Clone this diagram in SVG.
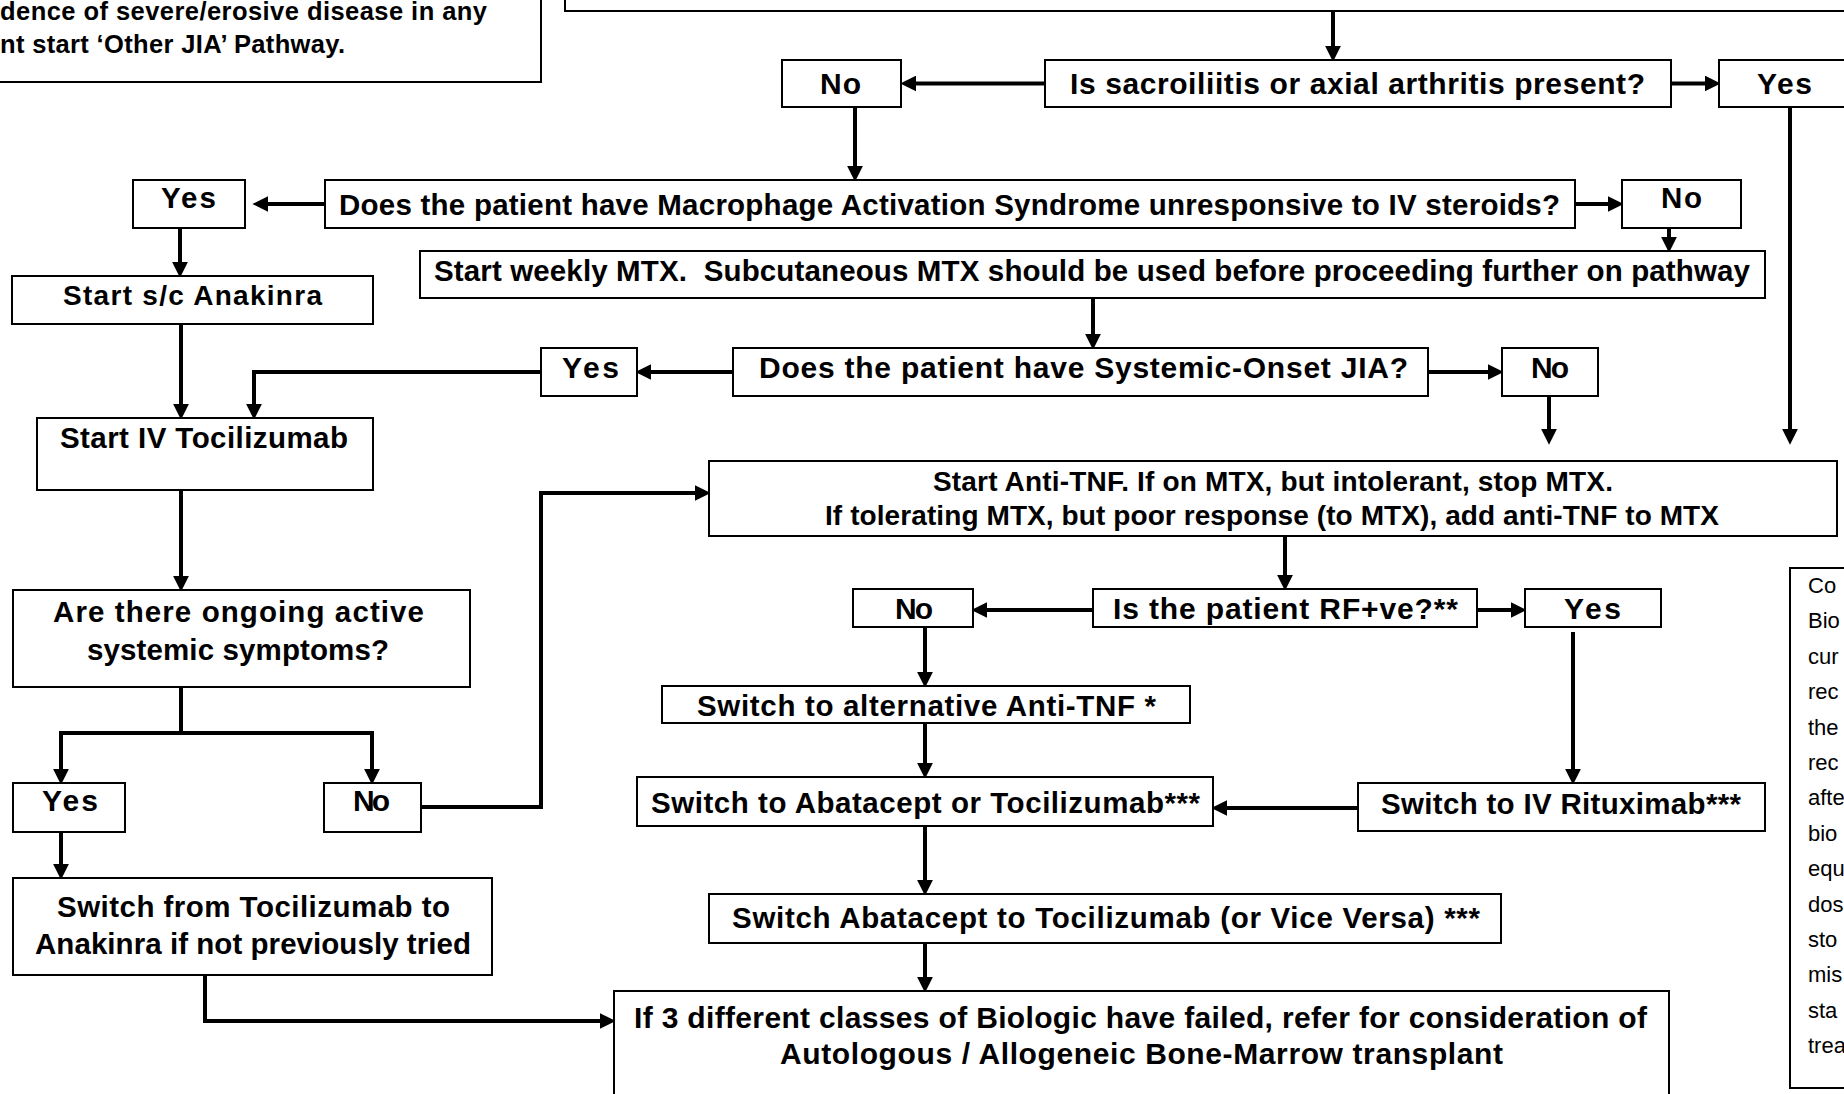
<svg xmlns="http://www.w3.org/2000/svg" width="1844" height="1094" viewBox="0 0 1844 1094">
<style>
.bx{fill:#fff;stroke:#000;stroke-width:2}
.t{font-family:"Liberation Sans",Arial,sans-serif;font-weight:bold;fill:#000}
.s26{font-size:25.5px}.s28{font-size:28px}.s29{font-size:29.5px}.s30{font-size:30px}
.n{font-family:"Liberation Sans",Arial,sans-serif;font-size:22px;fill:#000}
.c{fill:none;stroke:#000;stroke-width:4;marker-end:url(#ah)}
</style>
<defs>
<marker id="ah" markerUnits="userSpaceOnUse" markerWidth="16" markerHeight="16" viewBox="0 0 14 14" refX="2" refY="7" orient="auto">
<path d="M0,0 L14,7 L0,14 z" fill="#000"/>
</marker>
</defs>
<rect width="1844" height="1094" fill="#fff"/>

<g id="connectors">
<path class="c" d="M1333,11 V48"/>
<path class="c" d="M1045,83.5 H914"/>
<path class="c" d="M1671,83.5 H1707"/>
<path class="c" d="M855,107 V168"/>
<path class="c" d="M1790,107 V431"/>
<path class="c" d="M325,204 H266"/>
<path class="c" d="M1575,204 H1610"/>
<path class="c" d="M180,228 V264"/>
<path class="c" d="M1669,228 V239"/>
<path class="c" d="M1093,298 V336"/>
<path class="c" d="M733,372 H649"/>
<path class="c" d="M1428,372 H1490"/>
<path class="c" d="M1549,397 V431"/>
<path class="c" d="M541,372 H254 V406"/>
<path class="c" d="M181,324 V406"/>
<path class="c" d="M181,490 V578"/>
<path class="c" d="M181,687 V733 H61 V771"/>
<path class="c" d="M181,733 H372 V771"/>
<path class="c" d="M421,807 H541 V493 H697"/>
<path class="c" d="M61,832 V866"/>
<path class="c" d="M205,975 V1021 H602"/>
<path class="c" d="M1285,536 V577"/>
<path class="c" d="M1093,610 H985"/>
<path class="c" d="M1477,610 H1513"/>
<path class="c" d="M925,627 V674"/>
<path class="c" d="M925,723 V765"/>
<path class="c" d="M1573,632 V771"/>
<path class="c" d="M1358,808 H1225"/>
<path class="c" d="M925,826 V882"/>
<path class="c" d="M925,943 V979"/>
</g>

<g id="note-topleft">
<rect class="bx" x="-10" y="-10" width="551" height="92"/>
<text class="t s26" x="0" y="20" textLength="487">dence of severe/erosive disease in any</text>
<text class="t s26" x="0" y="53" textLength="345">nt start ‘Other JIA’ Pathway.</text>
</g>

<g id="box-top">
<rect class="bx" x="565" y="-10" width="1300" height="21"/>
</g>

<g id="q-sacro">
<rect class="bx" x="1045" y="60" width="626" height="47"/>
<text class="t s30" x="1070" y="94" textLength="575">Is sacroiliitis or axial arthritis present?</text>
</g>
<g id="no-sacro">
<rect class="bx" x="782" y="60" width="119" height="47"/>
<text class="t s30" x="820" y="94" textLength="41">No</text>
</g>
<g id="yes-sacro">
<rect class="bx" x="1719" y="60" width="140" height="47"/>
<text class="t s30" x="1757" y="94" textLength="55">Yes</text>
</g>

<g id="q-mas">
<rect class="bx" x="325" y="180" width="1250" height="48"/>
<text class="t s29" x="339" y="215" textLength="1221">Does the patient have Macrophage Activation Syndrome unresponsive to IV steroids?</text>
</g>
<g id="yes-mas">
<rect class="bx" x="133" y="180" width="112" height="48"/>
<text class="t s29" x="161" y="208" textLength="55">Yes</text>
</g>
<g id="no-mas">
<rect class="bx" x="1622" y="180" width="119" height="48"/>
<text class="t s29" x="1661" y="208" textLength="41">No</text>
</g>

<g id="mtx">
<rect class="bx" x="420" y="251" width="1345" height="47"/>
<text class="t s29" x="434" y="281" textLength="1316">Start weekly MTX.&#160; Subcutaneous MTX should be used before proceeding further on pathway</text>
</g>

<g id="anakinra">
<rect class="bx" x="12" y="276" width="361" height="48"/>
<text class="t s28" x="63" y="305" textLength="259">Start s/c Anakinra</text>
</g>

<g id="q-so">
<rect class="bx" x="733" y="348" width="695" height="48"/>
<text class="t s30" x="759" y="378" textLength="649">Does the patient have Systemic-Onset JIA?</text>
</g>
<g id="yes-so">
<rect class="bx" x="541" y="348" width="96" height="48"/>
<text class="t s30" x="562" y="378" textLength="57">Yes</text>
</g>
<g id="no-so">
<rect class="bx" x="1502" y="348" width="96" height="48"/>
<text class="t s30" x="1531" y="378" textLength="38">No</text>
</g>

<g id="tocilizumab">
<rect class="bx" x="37" y="418" width="336" height="72"/>
<text class="t s29" x="60" y="448" textLength="288">Start IV Tocilizumab</text>
</g>

<g id="anti-tnf">
<rect class="bx" x="709" y="461" width="1128" height="75"/>
<text class="t s28" x="933" y="491" textLength="680">Start Anti-TNF. If on MTX, but intolerant, stop MTX.</text>
<text class="t s28" x="825" y="525" textLength="894">If tolerating MTX, but poor response (to MTX), add anti-TNF to MTX</text>
</g>

<g id="q-ongoing">
<rect class="bx" x="13" y="590" width="457" height="97"/>
<text class="t s29" x="53" y="622" textLength="371">Are there ongoing active</text>
<text class="t s29" x="87" y="660" textLength="302">systemic symptoms?</text>
</g>

<g id="q-rf">
<rect class="bx" x="1093" y="589" width="384" height="38"/>
<text class="t s30" x="1113" y="619" textLength="345">Is the patient RF+ve?**</text>
</g>
<g id="no-rf">
<rect class="bx" x="853" y="589" width="120" height="38"/>
<text class="t s30" x="895" y="619" textLength="38">No</text>
</g>
<g id="yes-rf">
<rect class="bx" x="1525" y="589" width="136" height="38"/>
<text class="t s30" x="1564" y="619" textLength="57">Yes</text>
</g>

<g id="alt-anti-tnf">
<rect class="bx" x="662" y="686" width="528" height="37"/>
<text class="t s29" x="697" y="716" textLength="459">Switch to alternative Anti-TNF *</text>
</g>

<g id="yes-systemic">
<rect class="bx" x="13" y="783" width="112" height="49"/>
<text class="t s30" x="42" y="811" textLength="56">Yes</text>
</g>
<g id="no-systemic">
<rect class="bx" x="324" y="783" width="97" height="49"/>
<text class="t s30" x="353" y="811" textLength="37">No</text>
</g>

<g id="abatacept">
<rect class="bx" x="637" y="777" width="576" height="49"/>
<text class="t s29" x="651" y="813" textLength="549">Switch to Abatacept or Tocilizumab***</text>
</g>
<g id="rituximab">
<rect class="bx" x="1358" y="783" width="407" height="48"/>
<text class="t s29" x="1381" y="814" textLength="360">Switch to IV Rituximab***</text>
</g>

<g id="switch-anakinra">
<rect class="bx" x="13" y="878" width="479" height="97"/>
<text class="t s29" x="57" y="917" textLength="393">Switch from Tocilizumab to</text>
<text class="t s29" x="35" y="954" textLength="436">Anakinra if not previously tried</text>
</g>

<g id="switch-abatacept">
<rect class="bx" x="709" y="894" width="792" height="49"/>
<text class="t s29" x="732" y="928" textLength="748">Switch Abatacept to Tocilizumab (or Vice Versa) ***</text>
</g>

<g id="transplant">
<rect class="bx" x="614" y="991" width="1055" height="120"/>
<text class="t s30" x="634" y="1028" textLength="1013">If 3 different classes of Biologic have failed, refer for consideration of</text>
<text class="t s30" x="780" y="1064" textLength="723">Autologous / Allogeneic Bone-Marrow transplant</text>
</g>

<g id="note-right">
<rect class="bx" x="1790" y="568" width="80" height="520"/>
<text class="n" x="1808" y="593">Co</text>
<text class="n" x="1808" y="628">Bio</text>
<text class="n" x="1808" y="664">cur</text>
<text class="n" x="1808" y="699">rec</text>
<text class="n" x="1808" y="735">the</text>
<text class="n" x="1808" y="770">rec</text>
<text class="n" x="1808" y="805">afte</text>
<text class="n" x="1808" y="841">bio</text>
<text class="n" x="1808" y="876">equ</text>
<text class="n" x="1808" y="912">dos</text>
<text class="n" x="1808" y="947">sto</text>
<text class="n" x="1808" y="982">mis</text>
<text class="n" x="1808" y="1018">sta</text>
<text class="n" x="1808" y="1053">trea</text>
</g>
</svg>
